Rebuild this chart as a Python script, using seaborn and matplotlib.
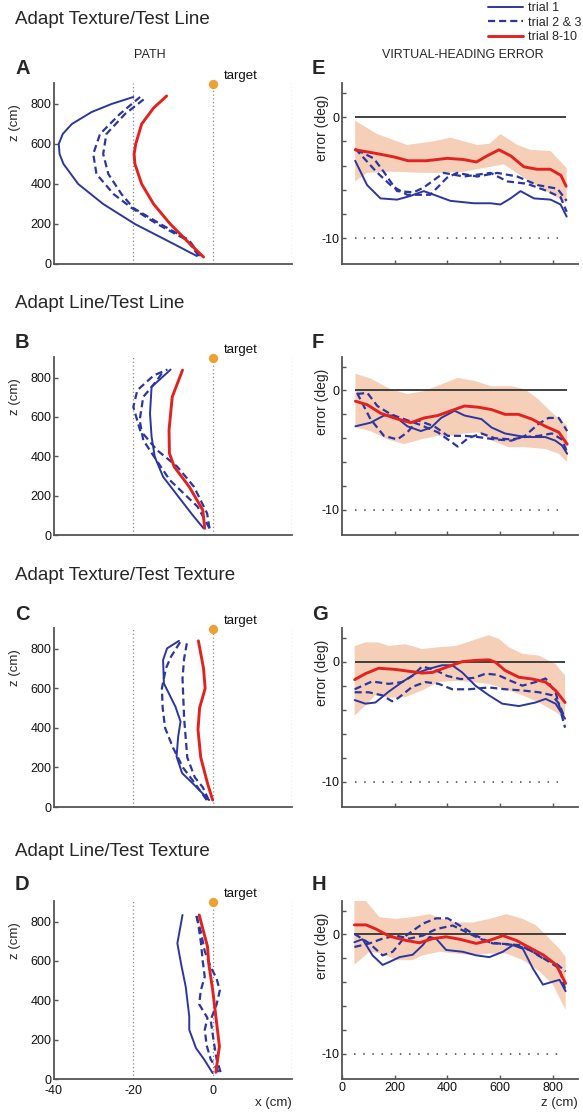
import numpy as np
import matplotlib
matplotlib.use("Agg")
import matplotlib.pyplot as plt
from matplotlib.lines import Line2D
import seaborn as sns

# ---- path panels (x in cm, z in cm) ----
A_t1_z = [40, 100, 200, 300, 400, 500, 550, 600, 650, 700, 760, 800, 835]
A_t1_x = [-4.0, -9.8, -19.6, -27.6, -33.9, -37.6, -38.6, -38.8, -37.8, -35.5, -30.5, -25.5, -20.0]
A_t2_z = [40, 120, 200, 280, 350, 450, 550, 650, 750, 835]
A_t2_x = [-3.5, -6.5, -14.0, -20.4, -25.0, -29.3, -30.1, -28.4, -23.4, -18.3]
A_t3_z = [40, 120, 200, 280, 350, 450, 550, 650, 750, 835]
A_t3_x = [-3.0, -6.0, -13.2, -20.0, -23.0, -26.3, -27.6, -26.8, -22.1, -16.6]
A_t8_z = [35, 100, 200, 300, 400, 500, 550, 600, 700, 780, 840]
A_t8_x = [-2.3, -5.7, -10.7, -14.9, -17.9, -19.6, -19.8, -19.4, -17.9, -14.9, -11.6]

B_t1_z = [34, 100, 178, 296, 398, 500, 618, 753, 841]
B_t1_x = [-2.3, -5.0, -8.0, -12.5, -14.6, -15.4, -15.8, -15.4, -10.6]
B_t2_z = [34, 110, 245, 347, 431, 533, 651, 736, 812, 841]
B_t2_x = [-0.8, -1.4, -4.7, -8.9, -14.0, -18.3, -20.0, -19.0, -14.8, -11.4]
B_t3_z = [34, 144, 279, 381, 482, 584, 702, 787, 838]
B_t3_x = [-0.8, -3.8, -10.8, -14.2, -17.5, -18.4, -17.5, -14.0, -12.3]
B_t8_z = [34, 127, 245, 347, 415, 533, 702, 838]
B_t8_x = [-2.0, -2.5, -5.9, -9.7, -10.9, -11.0, -10.2, -7.6]

C_t1_z = [35, 121, 171, 255, 356, 432, 508, 625, 743, 802, 840]
C_t1_x = [-0.9, -5.1, -7.7, -9.1, -8.7, -8.1, -9.4, -12.3, -12.5, -11.5, -8.5]
C_t2_z = [35, 120, 200, 300, 400, 500, 600, 700, 760, 840]
C_t2_x = [-1.5, -4.5, -7.5, -10.0, -12.0, -12.6, -12.8, -11.8, -10.5, -8.0]
C_t3_z = [35, 100, 150, 250, 350, 450, 550, 650, 750, 840]
C_t3_x = [-1.0, -2.5, -4.5, -6.4, -6.8, -7.2, -7.4, -7.6, -7.2, -6.4]
C_t8_z = [35, 120, 250, 390, 500, 600, 700, 840]
C_t8_x = [0.0, -1.3, -3.0, -3.7, -3.3, -1.9, -2.3, -3.6]

D_t1_z = [30, 98, 157, 250, 318, 470, 589, 690, 834]
D_t1_x = [0.0, -2.1, -4.2, -5.9, -5.9, -6.8, -8.0, -8.9, -7.6]
D_t2_z = [35, 100, 170, 250, 310, 380, 450, 520, 600, 700, 834]
D_t2_x = [1.5, -0.5, -1.5, -2.0, -1.3, -3.4, -3.0, -2.0, -2.5, -3.0, -4.0]
D_t3_z = [35, 100, 200, 300, 380, 450, 510, 570, 650, 750, 834]
D_t3_x = [2.0, 1.0, 0.2, -0.5, 1.0, 1.8, 1.0, -0.5, -2.0, -3.0, -4.2]
D_t8_z = [34, 166, 318, 453, 589, 673, 834]
D_t8_x = [0.8, 1.7, 0.8, 0.0, -1.0, -1.3, -3.4]

# ---- heading error panels (z in cm, error in deg) ----
E_t1_z = [50, 95, 146, 209, 259, 310, 361, 411, 500, 563, 601, 639, 677, 728, 791, 829, 852]
E_t1_e = [-3.6, -5.6, -6.7, -6.8, -6.5, -6.1, -6.5, -6.9, -7.1, -7.1, -7.2, -6.7, -6.1, -6.7, -6.8, -7.2, -8.2]
E_t2_z = [50, 130, 184, 247, 335, 398, 436, 513, 589, 665, 741, 817, 852]
E_t2_e = [-2.6, -4.5, -5.6, -6.4, -6.4, -5.0, -4.6, -4.9, -4.6, -4.9, -5.6, -5.9, -6.9]
E_t3_z = [55, 120, 158, 209, 272, 310, 386, 462, 563, 627, 703, 779, 829, 852]
E_t3_e = [-2.7, -3.4, -4.5, -6.1, -6.2, -5.8, -4.6, -4.9, -4.6, -5.3, -5.5, -6.1, -6.6, -7.8]
E_t8_z = [50, 130, 200, 250, 320, 400, 460, 510, 550, 595, 640, 690, 740, 790, 830, 850]
E_t8_e = [-2.7, -3.0, -3.3, -3.6, -3.6, -3.4, -3.5, -3.7, -3.2, -2.7, -3.2, -4.1, -4.3, -4.3, -4.8, -5.7]
E_hi_z = [50, 133, 247, 348, 411, 513, 560, 601, 665, 715, 791, 852]
E_hi_e = [-0.3, -1.4, -2.3, -2.0, -1.7, -2.3, -2.2, -1.4, -2.3, -2.7, -2.8, -4.2]
E_lo_z = [50, 95, 184, 310, 373, 462, 563, 614, 690, 766, 852]
E_lo_e = [-5.3, -4.6, -4.5, -4.6, -4.6, -4.5, -4.1, -3.9, -5.0, -6.0, -7.1]

F_t1_z = [51, 108, 159, 197, 248, 299, 338, 376, 427, 465, 529, 567, 618, 694, 771, 809, 834, 854]
F_t1_e = [-3.0, -2.7, -2.1, -2.1, -3.0, -3.4, -3.1, -2.3, -1.7, -2.1, -2.4, -3.1, -3.6, -3.9, -3.9, -4.2, -4.6, -5.3]
F_t2_z = [57, 108, 159, 210, 248, 287, 350, 401, 465, 516, 580, 643, 694, 745, 783, 822, 854]
F_t2_e = [-0.2, -2.4, -3.8, -4.1, -3.5, -2.5, -3.0, -3.8, -3.8, -3.9, -4.1, -4.2, -3.8, -2.8, -2.3, -2.3, -3.4]
F_t3_z = [57, 96, 134, 185, 236, 299, 363, 414, 439, 478, 529, 580, 643, 694, 745, 796, 834, 854]
F_t3_e = [-0.3, -0.2, -1.3, -2.0, -2.4, -2.9, -3.5, -4.3, -4.7, -4.0, -3.6, -4.0, -4.1, -3.9, -3.8, -3.6, -4.1, -5.2]
F_t8_z = [51, 96, 146, 197, 261, 312, 363, 414, 465, 516, 567, 618, 669, 720, 771, 822, 854]
F_t8_e = [-0.9, -1.2, -1.9, -2.3, -2.7, -2.3, -2.1, -1.7, -1.3, -1.4, -1.6, -2.0, -2.0, -2.4, -3.0, -3.5, -4.5]
F_hi_z = [51, 108, 185, 248, 312, 376, 439, 503, 567, 643, 694, 745, 796, 854]
F_hi_e = [1.4, 1.0, 0.1, -0.3, -0.05, 0.5, 1.05, 0.8, 0.35, 0.35, 0.1, -0.75, -1.85, -2.95]
F_lo_z = [51, 108, 172, 236, 299, 363, 414, 465, 516, 580, 631, 694, 771, 822, 854]
F_lo_e = [-3.1, -3.4, -4.1, -4.5, -4.1, -3.8, -3.8, -3.6, -3.5, -4.3, -4.75, -4.75, -4.9, -5.3, -6.0]

G_t1_z = [48, 89, 127, 177, 228, 278, 329, 380, 418, 456, 506, 557, 608, 671, 734, 772, 810, 846]
G_t1_e = [-3.2, -3.5, -3.4, -2.5, -1.7, -1.0, -0.6, -0.3, -0.3, -0.9, -2.0, -2.8, -3.5, -3.7, -3.4, -3.1, -3.5, -4.75]
G_t2_z = [48, 114, 177, 228, 266, 304, 354, 400, 450, 500, 545, 590, 640, 684, 734, 772, 810, 846]
G_t2_e = [-2.3, -1.65, -1.85, -1.7, -1.2, -0.4, -0.7, -1.2, -1.45, -1.35, -1.0, -1.1, -1.6, -2.0, -1.7, -1.4, -2.55, -5.5]
G_t3_z = [48, 101, 152, 190, 215, 266, 316, 367, 418, 481, 557, 620, 684, 747, 797, 823, 846]
G_t3_e = [-2.55, -2.55, -2.8, -3.3, -3.0, -2.1, -1.7, -1.85, -2.3, -2.3, -2.15, -2.3, -2.4, -2.55, -2.8, -3.5, -4.75]
G_t8_z = [48, 89, 139, 203, 253, 304, 342, 392, 456, 506, 557, 582, 620, 671, 722, 772, 810, 846]
G_t8_e = [-1.5, -1.0, -0.55, -0.65, -0.8, -0.95, -0.9, -0.5, 0.0, 0.1, 0.15, -0.05, -0.75, -1.3, -1.45, -1.7, -2.4, -3.4]
G_hi_z = [48, 89, 139, 177, 241, 304, 367, 430, 494, 557, 595, 633, 684, 747, 810, 846]
G_hi_e = [1.3, 1.6, 1.6, 1.3, 1.45, 1.05, 1.2, 1.3, 1.75, 2.2, 1.9, 1.2, 0.65, 0.5, -0.2, -1.15]
G_lo_z = [48, 89, 127, 177, 241, 304, 367, 430, 494, 557, 620, 684, 747, 810, 846]
G_lo_e = [-4.5, -3.65, -2.8, -3.0, -2.95, -2.4, -1.7, -1.6, -1.7, -1.85, -2.3, -2.8, -3.4, -4.2, -4.75]

H_t1_z = [47, 78, 116, 154, 180, 218, 268, 306, 332, 357, 395, 458, 509, 559, 610, 648, 686, 724, 762, 800, 825, 848]
H_t1_e = [-0.65, -0.4, -1.75, -2.55, -2.3, -1.9, -1.7, -0.9, -0.2, -0.35, -1.3, -1.45, -1.75, -1.9, -1.45, -0.9, -1.2, -2.85, -4.2, -3.95, -3.8, -4.75]
H_t2_z = [47, 104, 154, 192, 243, 306, 357, 401, 446, 509, 559, 610, 661, 711, 762, 813, 848]
H_t2_e = [0.05, -0.75, -1.75, -1.45, -0.1, 0.9, 1.35, 1.35, 0.75, -0.1, -0.65, -0.8, -0.9, -1.3, -2.0, -2.45, -3.1]
H_t3_z = [47, 104, 154, 205, 256, 306, 357, 420, 471, 522, 572, 623, 673, 724, 775, 825, 848]
H_t3_e = [-1.05, -0.75, -0.35, -0.1, -0.35, -0.1, 0.45, 0.75, 0.2, -0.35, -0.75, -0.8, -0.9, -1.45, -2.15, -2.85, -4.75]
H_t8_z = [47, 91, 129, 180, 243, 294, 344, 395, 446, 509, 559, 610, 661, 711, 762, 813, 848]
H_t8_e = [0.8, 0.8, 0.45, -0.15, -0.5, -0.7, -0.35, -0.2, -0.4, -0.75, -0.5, -0.1, -0.5, -1.1, -1.7, -2.55, -4.1]
H_hi_z = [47, 91, 142, 205, 268, 332, 382, 433, 496, 559, 623, 686, 737, 787, 825, 848]
H_hi_e = [3.1, 2.8, 1.45, 1.3, 1.45, 1.7, 1.3, 1.0, 1.0, 1.3, 1.7, 1.3, 0.75, -0.35, -1.2, -1.9]
H_lo_z = [47, 104, 154, 205, 268, 306, 370, 433, 496, 559, 623, 686, 749, 800, 825, 848]
H_lo_e = [-2.55, -1.45, -1.6, -2.15, -2.15, -1.75, -1.45, -1.6, -1.75, -1.6, -1.6, -2.15, -3.1, -4.2, -5.3, -6.3]

titles = ["Adapt Texture/Test Line", "Adapt Line/Test Line",
          "Adapt Texture/Test Texture", "Adapt Line/Test Texture"]
left_letters = ["A", "B", "C", "D"]
right_letters = ["E", "F", "G", "H"]
legend_labels = ["trial 1", "trial 2 & 3", "trial 8-10"]
target_x, target_z = 0, 900
path_guides = [-20, 0, 20]

paths = [
    (A_t1_x, A_t1_z, A_t2_x, A_t2_z, A_t3_x, A_t3_z, A_t8_x, A_t8_z),
    (B_t1_x, B_t1_z, B_t2_x, B_t2_z, B_t3_x, B_t3_z, B_t8_x, B_t8_z),
    (C_t1_x, C_t1_z, C_t2_x, C_t2_z, C_t3_x, C_t3_z, C_t8_x, C_t8_z),
    (D_t1_x, D_t1_z, D_t2_x, D_t2_z, D_t3_x, D_t3_z, D_t8_x, D_t8_z),
]
errors = [
    (E_t1_z, E_t1_e, E_t2_z, E_t2_e, E_t3_z, E_t3_e, E_t8_z, E_t8_e, E_hi_z, E_hi_e, E_lo_z, E_lo_e),
    (F_t1_z, F_t1_e, F_t2_z, F_t2_e, F_t3_z, F_t3_e, F_t8_z, F_t8_e, F_hi_z, F_hi_e, F_lo_z, F_lo_e),
    (G_t1_z, G_t1_e, G_t2_z, G_t2_e, G_t3_z, G_t3_e, G_t8_z, G_t8_e, G_hi_z, G_hi_e, G_lo_z, G_lo_e),
    (H_t1_z, H_t1_e, H_t2_z, H_t2_e, H_t3_z, H_t3_e, H_t8_z, H_t8_e, H_hi_z, H_hi_e, H_lo_z, H_lo_e),
]

BLUE = "#2c36a0"
RED = "#e3221f"
BAND = "#f6cfb9"
ORANGE = "#efa032"
SPINE = "#555555"
DASH = (0, (3.2, 1.8))

sns.set_style("ticks")
plt.rcParams["font.family"] = ["Liberation Sans", "DejaVu Sans"]
plt.rcParams["axes.unicode_minus"] = False

W, H = 583, 1113
fig = plt.figure(figsize=(W / 100, H / 100), dpi=100)


def px(x, y):
    return x / W, 1 - y / H


rows = [(83, 264), (357, 535), (628, 807), (901, 1079)]
title_y = [20, 303, 575, 852]
letter_y = [68, 342, 614, 885]


def style_axes(ax):
    sns.despine(ax=ax)
    for s in ("left", "bottom"):
        ax.spines[s].set_color(SPINE)
        ax.spines[s].set_linewidth(1.3)
    ax.tick_params(direction="in", length=3, width=1, color=SPINE,
                   labelsize=9, pad=2, labelcolor="#111111")


for i, (top, bot) in enumerate(rows):
    h = (bot - top) / H
    y0 = 1 - bot / H
    axl = fig.add_axes([54 / W, y0, 238 / W, h])
    axr = fig.add_axes([342 / W, y0, 236 / W, h])

    # --- path panel ---
    t1x, t1z, t2x, t2z, t3x, t3z, t8x, t8z = paths[i]
    for g in path_guides:
        axl.axvline(g, color="#888888", lw=0.9, ls=(0, (1, 2)), zorder=1)
    sns.lineplot(x=t1x, y=t1z, sort=False, estimator=None, color=BLUE, lw=1.4, ax=axl)
    sns.lineplot(x=t2x, y=t2z, sort=False, estimator=None, color=BLUE, lw=1.6, linestyle=DASH, ax=axl)
    sns.lineplot(x=t3x, y=t3z, sort=False, estimator=None, color=BLUE, lw=1.6, linestyle=DASH, ax=axl)
    sns.lineplot(x=t8x, y=t8z, sort=False, estimator=None, color=RED, lw=2.1, ax=axl)
    axl.scatter([target_x], [target_z], s=45, color=ORANGE, zorder=5, clip_on=False, lw=0)
    axl.annotate("target", (target_x, target_z), xytext=(8, 6), textcoords="offset points",
                 fontsize=9.5, va="center", ha="left", color="#111111")
    axl.set_xlim(-40, 20)
    axl.set_ylim(0, 905)
    axl.set_yticks([0, 200, 400, 600, 800])
    style_axes(axl)
    axl.set_ylabel("z (cm)", fontsize=9.5, labelpad=2)
    axl.yaxis.set_label_coords(-0.14, 0.78)
    if i == 3:
        axl.set_xticks([-40, -20, 0])
        axl.tick_params(axis="x", length=0, pad=4)
        axl.set_xlabel("x (cm)", fontsize=9.5)
        axl.xaxis.set_label_coords(1.0, -0.1)
        axl.xaxis.label.set_ha("right")
    else:
        axl.set_xticks([])

    # --- heading error panel ---
    t1z_, t1e, t2z_, t2e, t3z_, t3e, t8z_, t8e, hz, he, lz, le = errors[i]
    axr.fill(np.r_[hz, lz[::-1]], np.r_[he, le[::-1]], color=BAND, lw=0, zorder=1)
    axr.hlines(0, t8z_[0], t8z_[-1], color="#333333", lw=1.3, zorder=2)
    axr.hlines(-10, t8z_[0], 820, color="#444444", lw=1.1, ls=(0, (1, 5)), zorder=2)
    sns.lineplot(x=t1z_, y=t1e, sort=False, estimator=None, color=BLUE, lw=1.4, ax=axr)
    sns.lineplot(x=t2z_, y=t2e, sort=False, estimator=None, color=BLUE, lw=1.6, linestyle=DASH, ax=axr)
    sns.lineplot(x=t3z_, y=t3e, sort=False, estimator=None, color=BLUE, lw=1.6, linestyle=DASH, ax=axr)
    sns.lineplot(x=t8z_, y=t8e, sort=False, estimator=None, color=RED, lw=2.1, ax=axr)
    axr.set_xlim(0, 895)
    axr.set_ylim(-12.1, 2.8)
    axr.set_yticks([-10, -8, -6, -4, -2, 0, 2])
    axr.set_yticklabels(["-10", "", "", "", "", "0", ""])
    style_axes(axr)
    axr.set_ylabel("error (deg)", fontsize=10, labelpad=2)
    axr.yaxis.set_label_coords(-0.055, 0.75)
    if i == 3:
        axr.set_xticks([0, 200, 400, 600, 800])
        axr.set_xlabel("z (cm)", fontsize=9.5)
        axr.xaxis.set_label_coords(1.0, -0.1)
        axr.xaxis.label.set_ha("right")
    else:
        axr.set_xticks([200, 400, 600, 800])
        axr.set_xticklabels([])

    fig.text(*px(15, title_y[i]), titles[i], fontsize=13.5, va="center", ha="left")
    fig.text(*px(15, letter_y[i]), left_letters[i], fontsize=14.5, fontweight="bold", va="center")
    fig.text(*px(312, letter_y[i]), right_letters[i], fontsize=14.5, fontweight="bold", va="center")

fig.text(*px(150, 55), "PATH", fontsize=9, ha="center", va="center")
fig.text(*px(463, 55), "VIRTUAL-HEADING ERROR", fontsize=9, ha="center", va="center")

handles = [Line2D([], [], color=BLUE, lw=1.4),
           Line2D([], [], color=BLUE, lw=1.6, ls=(0, (3.2, 1.8))),
           Line2D([], [], color=RED, lw=2.1)]
fig.legend(handles, legend_labels, loc="upper right", bbox_to_anchor=(1.0, 0.999),
           frameon=False, fontsize=9, handlelength=2.8, handletextpad=0.4,
           labelspacing=0.2, borderaxespad=0.0, borderpad=0.1)

fig.savefig("out.png", dpi=100)
